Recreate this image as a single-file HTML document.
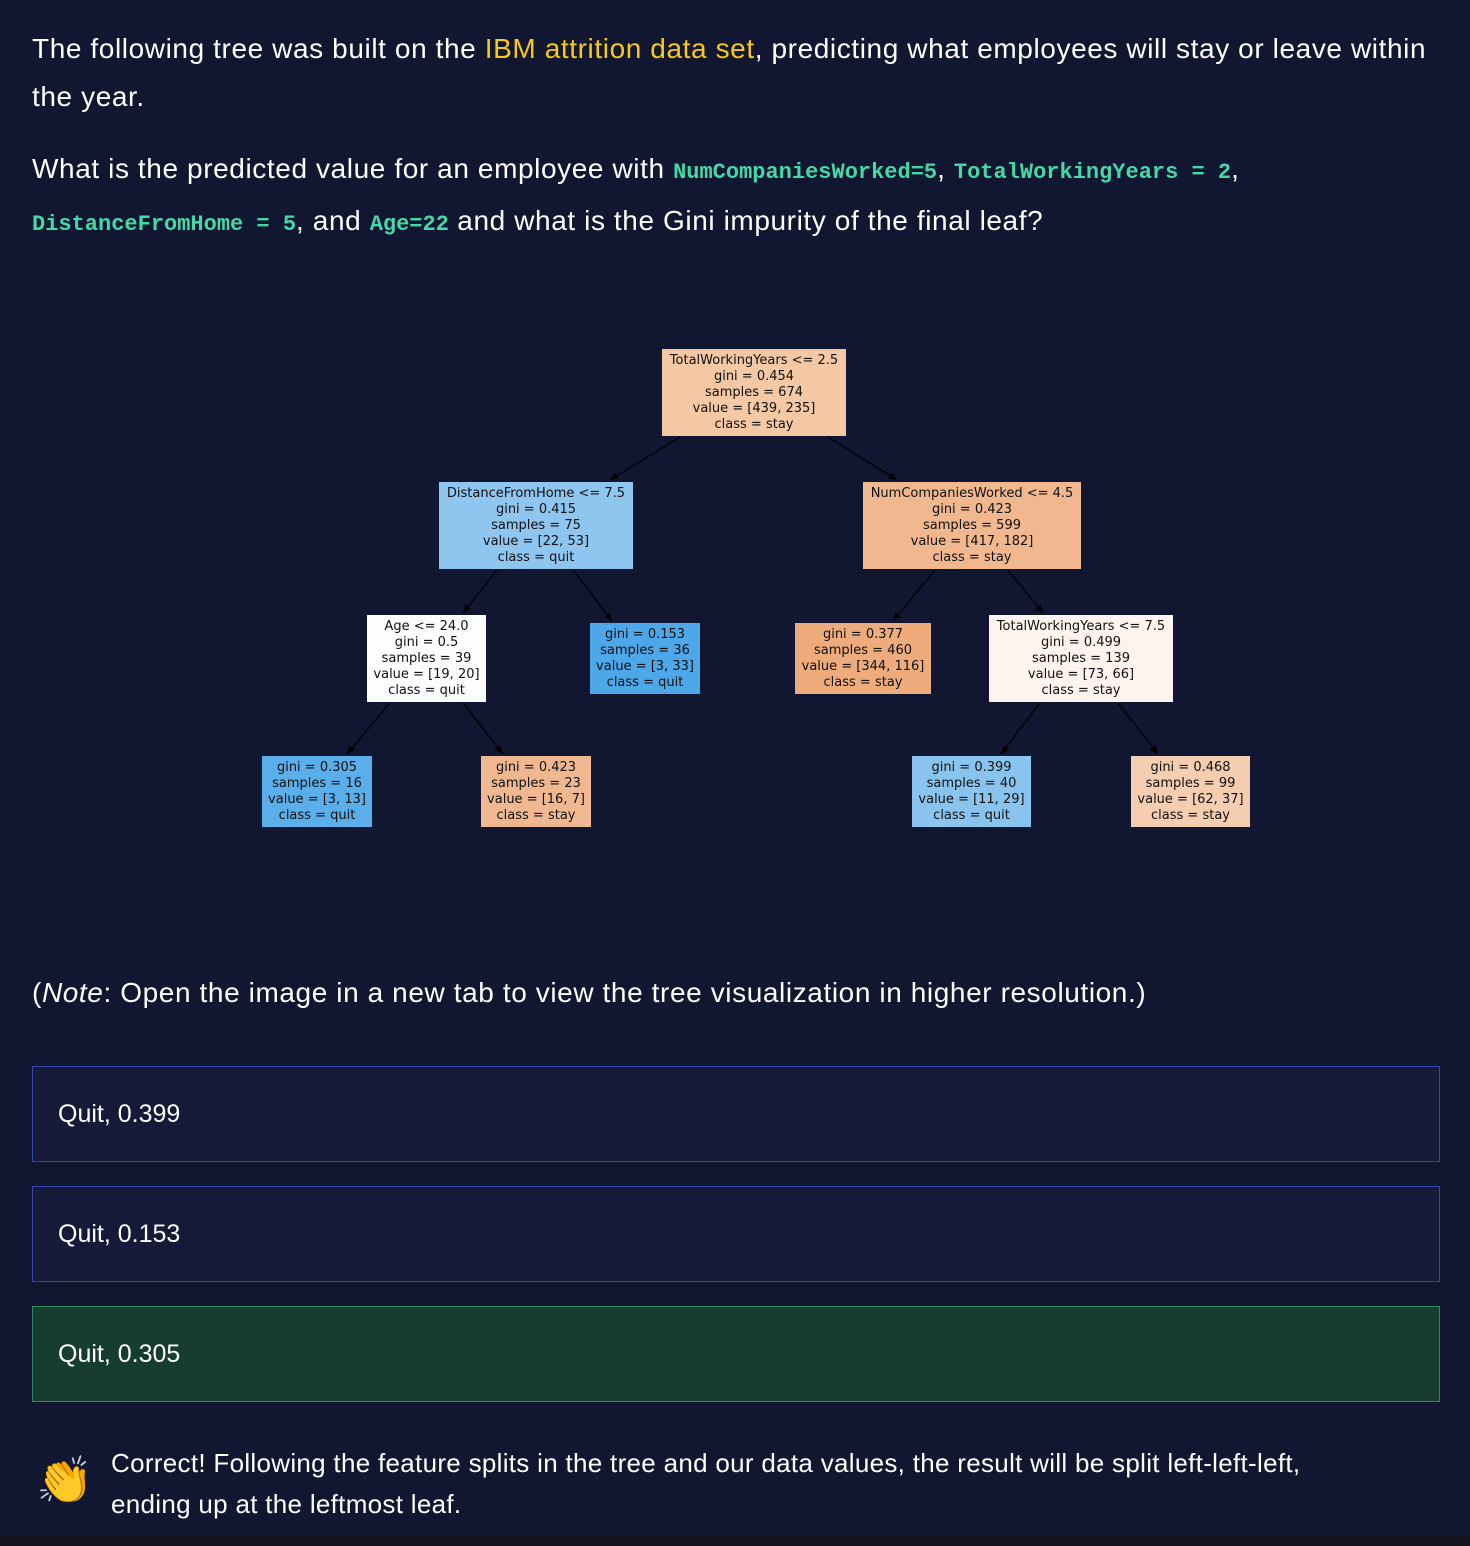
<!DOCTYPE html>
<html><head><meta charset="utf-8"><style>
body{margin:0;width:1470px;height:1546px;background:#111631;position:relative;overflow:hidden;font-family:"Liberation Sans",sans-serif;color:#fff}
.p{position:absolute;left:32px;font-size:28px;line-height:48px;width:1430px;letter-spacing:0.6px}
.c{font-family:"Liberation Mono",monospace;color:#46d9a8;font-weight:bold;font-size:22px;letter-spacing:0}
.y{color:#f7c91a}
.n{position:absolute;box-sizing:border-box;font-family:"DejaVu Sans",sans-serif;font-size:13px;line-height:16px;color:#111;text-align:center;display:flex;flex-direction:column;justify-content:center}
.o{position:absolute;left:32px;width:1408px;height:96px;box-sizing:border-box;border:1px solid #3848b0;background:#141a37;font-size:25px;line-height:94px;padding-left:25px}
</style></head><body>
<div class="p" style="top:25px">The following tree was built on the <span class="y">IBM attrition data set</span>, predicting what employees will stay or leave within<br>the year.</div>
<div class="p" style="top:145px">What is the predicted value for an employee with <span class="c">NumCompaniesWorked=5</span>, <span class="c">TotalWorkingYears = 2</span>,<br><span class="c">DistanceFromHome = 5</span>, and <span class="c">Age=22</span> and what is the Gini impurity of the final leaf?</div>
<svg style="position:absolute;left:0;top:0" width="1470" height="900" stroke="#000" stroke-width="1.2">
<defs><marker id="a" markerWidth="8" markerHeight="8" refX="7" refY="4" orient="auto"><path d="M0,1L7,4L0,7z" fill="#000" stroke="none"/></marker></defs>
<g marker-end="url(#a)">
<line x1="680" y1="437" x2="610" y2="480"/><line x1="828" y1="437" x2="897" y2="480"/>
<line x1="497" y1="570" x2="463" y2="613"/><line x1="573" y1="570" x2="612" y2="621"/>
<line x1="935" y1="570" x2="893" y2="621"/><line x1="1008" y1="570" x2="1043" y2="613"/>
<line x1="390" y1="703" x2="347" y2="754"/><line x1="463" y1="703" x2="503" y2="754"/>
<line x1="1040" y1="703" x2="1001" y2="754"/><line x1="1118" y1="703" x2="1158" y2="754"/>
</g></svg>
<div class="n" style="left:662px;top:349px;width:184px;height:87px;background:#f4c8a5">TotalWorkingYears &lt;= 2.5<br>gini = 0.454<br>samples = 674<br>value = [439, 235]<br>class = stay</div>
<div class="n" style="left:439px;top:482px;width:194px;height:87px;background:#8ec6f0">DistanceFromHome &lt;= 7.5<br>gini = 0.415<br>samples = 75<br>value = [22, 53]<br>class = quit</div>
<div class="n" style="left:863px;top:482px;width:218px;height:87px;background:#f1b890">NumCompaniesWorked &lt;= 4.5<br>gini = 0.423<br>samples = 599<br>value = [417, 182]<br>class = stay</div>
<div class="n" style="left:367px;top:615px;width:119px;height:87px;background:#fbfdfe">Age &lt;= 24.0<br>gini = 0.5<br>samples = 39<br>value = [19, 20]<br>class = quit</div>
<div class="n" style="left:590px;top:623px;width:110px;height:71px;background:#4da7e8">gini = 0.153<br>samples = 36<br>value = [3, 33]<br>class = quit</div>
<div class="n" style="left:795px;top:623px;width:136px;height:71px;background:#eeab7b">gini = 0.377<br>samples = 460<br>value = [344, 116]<br>class = stay</div>
<div class="n" style="left:989px;top:615px;width:184px;height:87px;background:#fef4ed">TotalWorkingYears &lt;= 7.5<br>gini = 0.499<br>samples = 139<br>value = [73, 66]<br>class = stay</div>
<div class="n" style="left:262px;top:756px;width:110px;height:71px;background:#5aaee9">gini = 0.305<br>samples = 16<br>value = [3, 13]<br>class = quit</div>
<div class="n" style="left:481px;top:756px;width:110px;height:71px;background:#f0b890">gini = 0.423<br>samples = 23<br>value = [16, 7]<br>class = stay</div>
<div class="n" style="left:912px;top:756px;width:119px;height:71px;background:#89c4ef">gini = 0.399<br>samples = 40<br>value = [11, 29]<br>class = quit</div>
<div class="n" style="left:1131px;top:756px;width:119px;height:71px;background:#f5cdb0">gini = 0.468<br>samples = 99<br>value = [62, 37]<br>class = stay</div>
<div class="p" style="top:969px">(<i>Note</i>: Open the image in a new tab to view the tree visualization in higher resolution.)</div>
<div class="o" style="top:1066px">Quit, 0.399</div>
<div class="o" style="top:1186px">Quit, 0.153</div>
<div class="o" style="top:1306px;background:#173c30;border-color:#2f8a60">Quit, 0.305</div>
<div style="position:absolute;left:36px;top:1450px;font-size:46px;line-height:60px">👏</div>
<div class="p" style="left:111px;top:1443px;font-size:26px;line-height:41px;letter-spacing:0.3px">Correct! Following the feature splits in the tree and our data values, the result will be split left-left-left,<br>ending up at the leftmost leaf.</div>
<div style="position:absolute;left:0;top:1535px;width:1470px;height:11px;background:#15141f"></div>
</body></html>
